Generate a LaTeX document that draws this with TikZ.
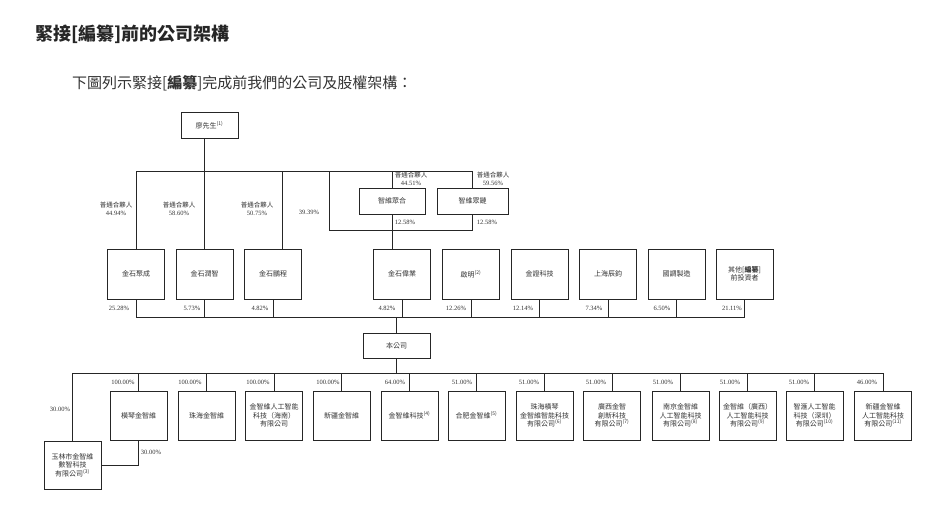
\documentclass[tikz,border=0pt]{standalone}
\usepackage{fontspec}
\setmainfont{Liberation Serif}
\newfontfamily\cjk{Noto Sans CJK TC}
\usepackage{tikz}
\usetikzlibrary{arrows.meta}

\begin{document}
\begin{tikzpicture}[x=1pt,y=-1pt]
		\useasboundingbox (0,0) rectangle (930,527);
		\node[anchor=west,inner sep=0,text=black!85,font=\cjk\bfseries\fontsize{18}{20}\selectfont] (title) at (35,34) {緊接[編纂]前的公司架構};
		\node[anchor=west,inner sep=0,text=black!80,font=\cjk\fontsize{15}{17}\selectfont] (intro) at (72,83) {下圖列示緊接[{\bfseries 編纂}]完成前我們的公司及股權架構：};

		\begin{scope}[every node/.style={draw=black!85,line width=1pt,minimum width=57,minimum height=50,inner sep=1,align=center,text=black!80,font=\cjk\fontsize{7}{8.5}\selectfont}]
			\node[minimum height=25] (mr) at (209.5,125.5) {廖先生\textsuperscript{(1)}};
			\node[minimum width=66,minimum height=26] (zwzh) at (392,201) {智維眾合};
			\node[minimum width=71,minimum height=26] (zwzl) at (472.5,201) {智維眾鏈};
			\node (jsjc) at (136,274) {金石聚成};
			\node (jsrz) at (204.5,274) {金石潤智};
			\node (jspc) at (273,274) {金石鵬程};
			\node (jswy) at (402,274) {金石偉業};
			\node (qm) at (471,274) {啟明\textsuperscript{(2)}};
			\node (jzkj) at (539.5,274) {金證科技};
			\node (shcj) at (608,274) {上海辰鈞};
			\node (gtzz) at (676.5,274) {國調製造};
			\node (qt) at (744.5,274) {其他[{\bfseries 編纂}]\\前投資者};
			\node[minimum width=67,minimum height=25] (gs) at (396.5,345.5) {本公司};
			\node[minimum height=49] (b1) at (138.5,415.5) {橫琴金智維};
			\node[minimum height=49] (b2) at (206.5,415.5) {珠海金智維};
			\node[minimum height=49] (b3) at (274,415.5) {金智維人工智能\\科技（海南）\\有限公司};
			\node[minimum height=49] (b4) at (341.5,415.5) {新疆金智維};
			\node[minimum height=49] (b5) at (409.5,415.5) {金智維科技\textsuperscript{(4)}};
			\node[minimum height=49] (b6) at (476.5,415.5) {合肥金智維\textsuperscript{(5)}};
			\node[minimum height=49] (b7) at (544.5,415.5) {珠海橫琴\\金智維智能科技\\有限公司\textsuperscript{(6)}};
			\node[minimum height=49] (b8) at (612,415.5) {廣西金智\\創新科技\\有限公司\textsuperscript{(7)}};
			\node[minimum height=49] (b9) at (680.5,415.5) {南京金智維\\人工智能科技\\有限公司\textsuperscript{(8)}};
			\node[minimum height=49] (b10) at (747.5,415.5) {金智維（廣西）\\人工智能科技\\有限公司\textsuperscript{(9)}};
			\node[minimum height=49] (b11) at (814.5,415.5) {智滙人工智能\\科技（深圳）\\有限公司\textsuperscript{(10)}};
			\node[minimum height=49] (b12) at (883,415.5) {新疆金智維\\人工智能科技\\有限公司\textsuperscript{(11)}};
			\node[minimum height=48] (yl) at (72.5,465) {玉林市金智維\\數智科技\\有限公司\textsuperscript{(3)}};
		\end{scope}

		\coordinate (tbl) at (136,171);
		\coordinate (tbr) at (472.5,171);
		\coordinate (mid) at (329,230);
		\coordinate (bbl) at (136,317);
		\coordinate (bbr) at (744.5,317);
		\coordinate (sbl) at (72.5,373);
		\coordinate (sbr) at (883,373);

		\begin{scope}[every edge/.style={draw=black!85,line width=1pt,line cap=rect}]
			\path (tbl) edge (tbr);
			\path (mr.south -| jsrz.north) edge (jsrz.north);
			\path (tbl) edge (jsjc.north);
			\path ([xshift=9pt]jspc.north |- tbl) edge ([xshift=9pt]jspc.north);
			\path (zwzh.north |- tbl) edge (zwzh.north);
			\path (tbr) edge (zwzl.north);
			\path (mid |- tbl) edge (mid);
			\path (mid) edge (mid -| zwzl.south);
			\path (zwzl.south) edge (mid -| zwzl.south);
			\path (zwzh.south) edge (zwzh.south |- jswy.north);

			\path (bbl) edge (bbr);
			\path (jsjc.south) edge (jsjc.south |- bbl);
			\path (jsrz.south) edge (jsrz.south |- bbl);
			\path (jspc.south) edge (jspc.south |- bbl);
			\path (jswy.south) edge (jswy.south |- bbl);
			\path (qm.south) edge (qm.south |- bbl);
			\path (jzkj.south) edge (jzkj.south |- bbl);
			\path (shcj.south) edge (shcj.south |- bbl);
			\path (gtzz.south) edge (gtzz.south |- bbl);
			\path (qt.south) edge (qt.south |- bbl);
			\path (gs.north |- bbl) edge (gs.north);

			\path (gs.south) edge (gs.south |- sbl);
			\path (sbl) edge (sbr);
			\path (sbl) edge (yl.north);
			\path (b1.north |- sbl) edge (b1.north);
			\path (b2.north |- sbl) edge (b2.north);
			\path (b3.north |- sbl) edge (b3.north);
			\path (b4.north |- sbl) edge (b4.north);
			\path (b5.north |- sbl) edge (b5.north);
			\path (b6.north |- sbl) edge (b6.north);
			\path (b7.north |- sbl) edge (b7.north);
			\path (b8.north |- sbl) edge (b8.north);
			\path (b9.north |- sbl) edge (b9.north);
			\path (b10.north |- sbl) edge (b10.north);
			\path (b11.north |- sbl) edge (b11.north);
			\path (b12.north |- sbl) edge (b12.north);
			\path (b1.south) edge (b1.south |- yl.east);
			\path (b1.south |- yl.east) edge (yl.east);
		\end{scope}

		\begin{scope}[every node/.style={inner sep=0,align=center,text=black!80,font=\fontsize{6.5}{8}\selectfont}]
			\node (p1) at (116,209) {{\cjk 普通合夥人}\\44.94\%};
			\node (p2) at (179,209) {{\cjk 普通合夥人}\\58.60\%};
			\node (p3) at (257,209) {{\cjk 普通合夥人}\\50.75\%};
			\node (p4) at (309,212) {39.39\%};
			\node (p5) at (411,179) {{\cjk 普通合夥人}\\44.51\%};
			\node (p6) at (493,179) {{\cjk 普通合夥人}\\59.56\%};
			\node (p7) at (405,222) {12.58\%};
			\node (p8) at (487,222) {12.58\%};

			\node (q1) at (119,308) {25.28\%};
			\node (q2) at (192,308) {5.73\%};
			\node (q3) at (260,308) {4.82\%};
			\node (q4) at (387,308) {4.82\%};
			\node (q5) at (456,308) {12.26\%};
			\node (q6) at (523,308) {12.14\%};
			\node (q7) at (594,308) {7.34\%};
			\node (q8) at (662,308) {6.50\%};
			\node (q9) at (732,308) {21.11\%};

			\node (r1) at (123,382) {100.00\%};
			\node (r2) at (190,382) {100.00\%};
			\node (r3) at (258,382) {100.00\%};
			\node (r4) at (328,382) {100.00\%};
			\node (r5) at (395,382) {64.00\%};
			\node (r6) at (462,382) {51.00\%};
			\node (r7) at (529,382) {51.00\%};
			\node (r8) at (596,382) {51.00\%};
			\node (r9) at (663,382) {51.00\%};
			\node (r10) at (730,382) {51.00\%};
			\node (r11) at (799,382) {51.00\%};
			\node (r12) at (867,382) {46.00\%};
			\node (r13) at (60,409) {30.00\%};
			\node (r14) at (151,452) {30.00\%};
		\end{scope}
\end{tikzpicture}
\end{document}
